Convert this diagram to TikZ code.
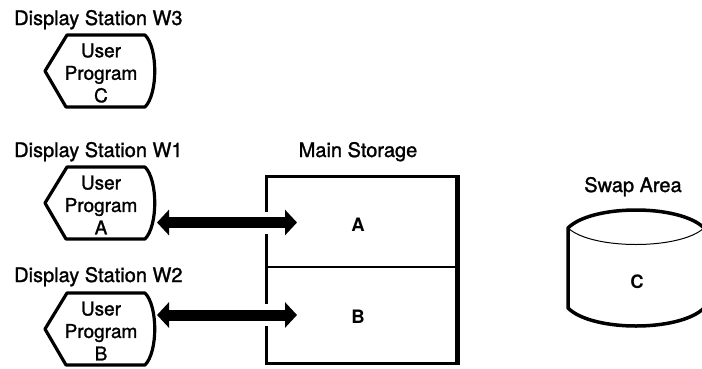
\documentclass[tikz,border=0pt]{standalone}
\usepackage{fontspec}
\setmainfont{TeX Gyre Heros}
\newfontfamily\medfont[FakeBold=1.3]{TeX Gyre Heros}
\usetikzlibrary{arrows.meta}
\begin{document}
\begin{tikzpicture}[x=1pt,y=-1pt,
  lbl/.style={font=\medfont\fontsize{20}{24}\selectfont, inner sep=0pt},
  prog/.style={font=\medfont\fontsize{19}{22.5}\selectfont, align=center, inner sep=0pt},
  big/.style={font=\bfseries\fontsize{18.5}{22}\selectfont, inner sep=0pt},
  outline/.style={line width=3.2pt, line join=round},
  bigarrow/.style={line width=11pt, {Triangle[length=12pt,width=25pt]}-{Triangle[length=12pt,width=25pt]}},
  dispsym/.pic={\draw[outline] (22,0) -- (100,0) .. controls (113,13) and (113,59) .. (100,72) -- (21,72) -- (0,36) -- cycle;}
]
\useasboundingbox (0,0) rectangle (702,368);

% display stations
\node[lbl, anchor=base west] (w3lbl) at (14,25) {Display Station W3};
\pic at (45,35) {dispsym};
\node[prog] (w3prog) at (101,73) {User\\Program\\C};

\node[lbl, anchor=base west] (w1lbl) at (14,157) {Display Station W1};
\pic at (45,167) {dispsym};
\node[prog] (w1prog) at (101,205) {User\\Program\\A};

\node[lbl, anchor=base west] (w2lbl) at (14,282) {Display Station W2};
\pic at (45,293) {dispsym};
\node[prog] (w2prog) at (101,331) {User\\Program\\B};

% main storage
\node[lbl, anchor=base] (mslbl) at (358,157) {Main Storage};
\node[draw, line width=3pt, minimum width=190pt, minimum height=187pt, anchor=north west, inner sep=0pt] (ms) at (265,175) {};
\draw[line width=4.5pt] (ms.north east) -- (ms.south east);
\draw[line width=1.2pt] (265,267) -- (455,267);
\fill[white] (258,211.5) rectangle (272,233.5);
\fill[white] (258,304) rectangle (272,326);
\node[big] (la) at (358,225) {A};
\node[big] (lb) at (358,317) {B};

% arrows
\coordinate (w1tip) at (157,222.5);
\coordinate (msA) at (297,222.5);
\coordinate (w2tip) at (157,315);
\coordinate (msB) at (297,315);
\draw[bigarrow] (w1tip) -- (msA);
\draw[bigarrow] (w2tip) -- (msB);

% swap area
\node[lbl, anchor=base] (swlbl) at (633,192) {Swap Area};
\draw[line width=3.5pt, line join=round] (704,228) .. controls (680,204) and (592,204) .. (568,228) -- (568,308) .. controls (592,332) and (680,332) .. (704,308);
\draw[line width=1pt] (568,228) .. controls (592,250) and (680,250) .. (704,228);
\node[big] (lc) at (637,282) {C};
\end{tikzpicture}
\end{document}
